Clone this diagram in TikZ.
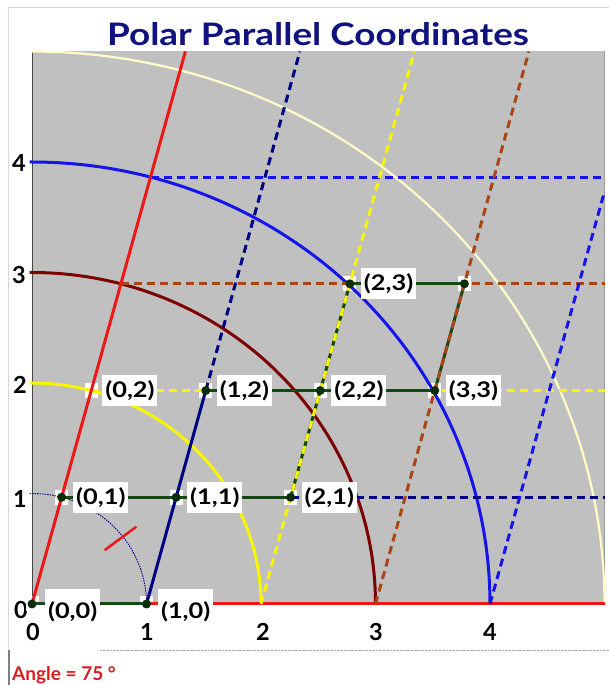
\documentclass[tikz,border=0pt]{standalone}
\usepackage{fontspec}
\setmainfont{Lato}
\usetikzlibrary{calc}
\definecolor{bgg}{RGB}{192,192,192}
\definecolor{myred}{RGB}{236,24,24}
\definecolor{myblue}{RGB}{20,20,235}
\definecolor{mynavy}{RGB}{0,0,130}
\definecolor{mymaroon}{RGB}{125,0,0}
\definecolor{myyel}{RGB}{250,245,0}
\definecolor{cream}{RGB}{255,253,200}
\definecolor{brownd}{RGB}{168,70,24}
\definecolor{dgreen}{RGB}{22,72,22}
\definecolor{dotg}{RGB}{10,45,10}
\definecolor{titleblue}{RGB}{16,18,125}
\definecolor{anglered}{RGB}{215,30,30}
\definecolor{framec}{RGB}{210,214,232}
\newcommand{\lbltxt}[1]{\scalebox{1.18}[1]{#1}}
\begin{document}
\begin{tikzpicture}[x=1pt,y=1pt,
  lbl/.style={fill=white, font=\fontsize{21.5}{24}\selectfont\bfseries, inner sep=0pt,
              minimum width=55pt, minimum height=31pt, anchor=west},
  axl/.style={font=\fontsize{23.5}{26}\selectfont\bfseries, inner sep=0pt},
  sq/.style={fill=white, minimum width=13pt, minimum height=15pt, inner sep=0pt},
  thick3/.style={line width=3pt},
  dsh/.style={line width=3pt, dash pattern=on 8pt off 5pt},
  arcl/.style={line width=3pt},
  seg/.style={dgreen, line width=3pt}]
\useasboundingbox (0,0) rectangle (609,685);
% slide frame artifacts
\draw[framec, line width=1pt] (609,677) -- (8,677) -- (8,35);
\draw[gray, line width=1.2pt] (9,35) -- (9,0);
\draw[gray!70, densely dotted] (100,35) -- (609,35);
% title and angle text
\node[font=\fontsize{31}{34}\selectfont\bfseries, text=titleblue, inner sep=0pt] (title) at (318,651) {\scalebox{1.19}[1]{Polar Parallel Coordinates}};
\node[font=\fontsize{19}{22}\selectfont\bfseries, text=anglered, inner sep=0pt, anchor=base west] (angle) at (12,5) {Angle = 75 °};
% axis labels
\node[axl] (yl0) at (21,75) {0};
\node[axl] (yl1) at (20,186) {1};
\node[axl] (yl2) at (20,300) {2};
\node[axl] (yl3) at (19,410) {3};
\node[axl] (yl4) at (19,522) {4};
\node[axl] (xl0) at (33,53) {0};
\node[axl] (xl1) at (147,53) {1};
\node[axl] (xl2) at (263,53) {2};
\node[axl] (xl3) at (376,53) {3};
\node[axl] (xl4) at (490,53) {4};
\begin{scope}[shift={(32,81)}, x=114.5pt, y=110.5pt]
\pgfmathsetmacro{\cc}{cos(75)}
\pgfmathsetmacro{\ss}{sin(75)}
\pgfmathsetmacro{\tt}{5/tan(75)}
\pgfmathsetmacro{\bt}{tan(75)}
% points P(a,b) = a + b*(cos75, sin75)
\coordinate (p00) at (0,0);
\coordinate (p10) at (1,0);
\coordinate (p20) at (2,0);
\coordinate (p30) at (3,0);
\coordinate (p40) at (4,0);
\coordinate (p01) at (\cc,\ss);
\coordinate (p11) at (1+\cc,\ss);
\coordinate (p21) at (2+\cc,\ss);
\coordinate (p02) at (2*\cc,2*\ss);
\coordinate (p12) at (1+2*\cc,2*\ss);
\coordinate (p22) at (2+2*\cc,2*\ss);
\coordinate (p32) at (3+2*\cc,2*\ss);
\coordinate (p03) at (3*\cc,3*\ss);
\coordinate (p23) at (2+3*\cc,3*\ss);
\coordinate (p33) at (3+3*\cc,3*\ss);
\coordinate (p04) at (4*\cc,4*\ss);
\coordinate (e1) at (5,\ss);
\coordinate (e2) at (5,2*\ss);
\coordinate (e3) at (5,3*\ss);
\coordinate (e4) at (5,4*\ss);
\coordinate (e0) at (5,0);
\coordinate (t0) at (\tt,5);
\coordinate (t1) at (1+\tt,5);
\coordinate (t2) at (2+\tt,5);
\coordinate (t3) at (3+\tt,5);
\coordinate (t4) at (5,\bt);
% background
\fill[bgg] (0,0) rectangle (5,5);
\draw[gray!80, line width=0.8pt] (5,0) -- (5,5);
\draw[gray!55!black, line width=0.8pt] (0,0) -- (0,5);
% white squares
\foreach \p in {p00,p10,p01,p11,p21,p02,p12,p22,p32,p23,p33}
  \node[sq] (sq-\p) at (\p) {};
% arcs
\draw[cream, line width=2.2pt] plot[domain=0:90, samples=80, smooth] ({5*cos(\x)},{5*sin(\x)});
\draw[myblue, arcl] plot[domain=0:90, samples=80, smooth] ({4*cos(\x)},{4*sin(\x)}) -- (-0.02,4);
\draw[mymaroon, arcl] plot[domain=0:90, samples=80, smooth] ({3*cos(\x)},{3*sin(\x)}) -- (-0.02,3);
\draw[myyel, arcl] plot[domain=0:90, samples=80, smooth] ({2*cos(\x)},{2*sin(\x)}) -- (-0.02,2);
\draw[mynavy, line width=0.9pt, dash pattern=on 1.5pt off 1pt] plot[domain=0:90, samples=60, smooth] ({cos(\x)},{sin(\x)}) -- (-0.02,1);
% angle tick
\coordinate (tk1) at ({0.8*cos(37.5)},{0.8*sin(37.5)});
\coordinate (tk2) at ({1.15*cos(37.5)},{1.15*sin(37.5)});
\draw[myred, line width=2.5pt] (tk1) -- (tk2);
% horizontal dashed lines
\draw[myblue, dsh] (p04) -- (e4);
\draw[brownd, dsh] (p03) -- (e3);
\draw[myyel, dsh] (p02) -- (e2);
\draw[mynavy, dsh] (p21) -- (e1);
% x axis and red slanted axis
\draw[myred, thick3] (p00) -- (e0);
\draw[myred, thick3] (p00) -- (t0);
% dark green horizontal segments
\draw[seg] (p00) -- (p10);
\draw[seg] (p01) -- (p21);
\draw[seg] (p12) -- (p32);
\draw[seg] (p23) -- (p33);
% dark green slanted segments
\draw[seg] (p21) -- (p23);
\draw[seg] (p32) -- (p33);
% navy line through (1,0)
\draw[mynavy, thick3] (p10) -- (p12);
\draw[mynavy, dsh] (p12) -- (t1);
% slanted dashed lines
\draw[myyel, dsh] (p20) -- (t2);
\draw[brownd, dsh] (p30) -- (t3);
\draw[myblue, dsh] (p40) -- (t4);
% dots
\foreach \p in {p00,p10,p01,p11,p21,p12,p22,p32,p23,p33}
  \fill[dotg] (\p) circle (4.5pt);
% labels
\node[lbl, minimum height=46pt, anchor=north west] (l00) at ($(p00)+(13pt,15pt)$) {\lbltxt{(0,0)}};
\node[lbl, minimum height=46pt, anchor=north west] (l10) at ($(p10)+(11.5pt,15pt)$) {\lbltxt{(1,0)}};
\node[lbl] (l01) at ($(p01)+(11.5pt,0)$) {\lbltxt{(0,1)}};
\node[lbl] (l11) at ($(p11)+(11pt,0)$) {\lbltxt{(1,1)}};
\node[lbl] (l21) at ($(p21)+(11pt,0)$) {\lbltxt{(2,1)}};
\node[lbl] (l02) at ($(p02)+(11pt,0)$) {\lbltxt{(0,2)}};
\node[lbl] (l12) at ($(p12)+(11pt,0)$) {\lbltxt{(1,2)}};
\node[lbl] (l22) at ($(p22)+(11pt,0)$) {\lbltxt{(2,2)}};
\node[lbl] (l32) at ($(p32)+(11pt,0)$) {\lbltxt{(3,3)}};
\node[lbl] (l23) at ($(p23)+(11pt,0)$) {\lbltxt{(2,3)}};
\end{scope}
\end{tikzpicture}
\end{document}
